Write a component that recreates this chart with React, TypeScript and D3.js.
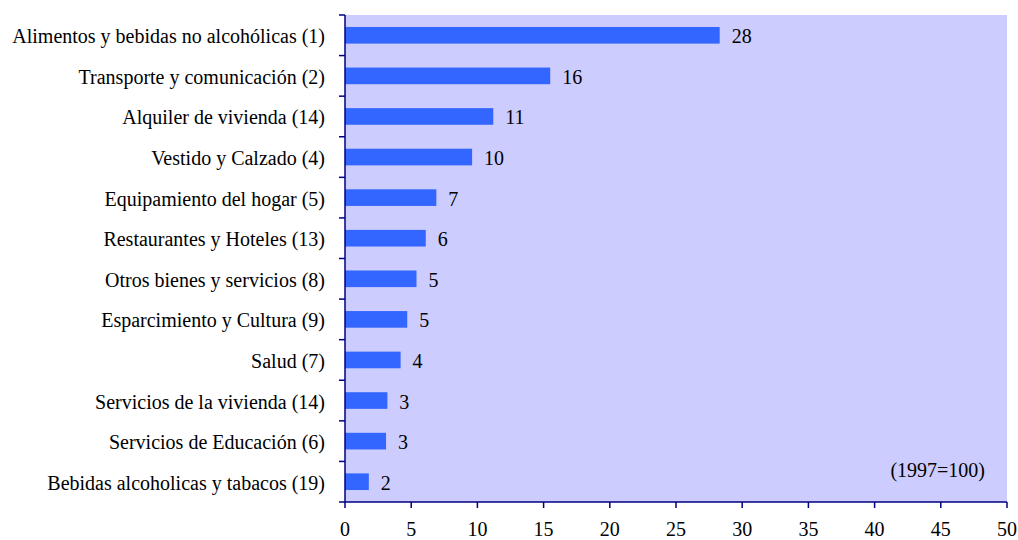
import { useEffect, useRef } from 'react';
import * as d3 from 'd3';

const categories = [
  'Alimentos y bebidas no alcohólicas (1)',
  'Transporte y comunicación (2)',
  'Alquiler de vivienda (14)',
  'Vestido y Calzado (4)',
  'Equipamiento del hogar (5)',
  'Restaurantes y Hoteles (13)',
  'Otros bienes y servicios (8)',
  'Esparcimiento y Cultura (9)',
  'Salud (7)',
  'Servicios de la vivienda (14)',
  'Servicios de Educación (6)',
  'Bebidas alcoholicas y tabacos (19)',
];
const values = [28.3, 15.5, 11.2, 9.6, 6.9, 6.1, 5.4, 4.7, 4.2, 3.2, 3.1, 1.8];
const valueLabels = ['28', '16', '11', '10', '7', '6', '5', '5', '4', '3', '3', '2'];
const xTicks = [0, 5, 10, 15, 20, 25, 30, 35, 40, 45, 50];
const note = '(1997=100)';

export default function App() {
  const svgRef = useRef<SVGSVGElement>(null);

  useEffect(() => {
    if (!svgRef.current) return;
    const svg = d3.select(svgRef.current);
    svg.selectAll('*').remove();

    const left = 345;
    const right = 1007;
    const top = 15;
    const bottom = 502;
    const font = '"Liberation Serif", "Times New Roman", serif';
    const fontSize = '20px';
    const axisColor = '#000080';

    const x = d3.scaleLinear().domain([0, 50]).range([left, right]);
    const y = d3.scaleBand<string>().domain(categories).range([top, bottom]).paddingInner(0.59).paddingOuter(0.295);
    const band = d3.scaleBand<string>().domain(categories).range([top, bottom]);

    // plot background
    svg.append('rect')
      .attr('x', left).attr('y', top)
      .attr('width', right - left).attr('height', bottom - top)
      .attr('fill', '#CCCCFF');

    // bars, value labels, category labels
    categories.forEach((c, i) => {
      svg.append('rect')
        .attr('x', x(0))
        .attr('y', y(c)!)
        .attr('width', x(values[i]) - x(0))
        .attr('height', y.bandwidth())
        .attr('fill', '#3366FF');

      svg.append('text')
        .attr('x', x(values[i]) + 12)
        .attr('y', y(c)! + y.bandwidth() / 2 + 1)
        .attr('dominant-baseline', 'central')
        .attr('font-family', font)
        .attr('font-size', fontSize)
        .attr('fill', '#000')
        .text(valueLabels[i]);

      svg.append('text')
        .attr('x', left - 20)
        .attr('y', band(c)! + band.bandwidth() / 2 + 1)
        .attr('dominant-baseline', 'central')
        .attr('text-anchor', 'end')
        .attr('font-family', font)
        .attr('font-size', fontSize)
        .attr('fill', '#000')
        .text(c);
    });

    // left axis with ticks at band boundaries
    svg.append('line')
      .attr('x1', left).attr('x2', left)
      .attr('y1', top).attr('y2', bottom)
      .attr('stroke', axisColor).attr('stroke-width', 1.5);
    for (let i = 0; i <= categories.length; i++) {
      const yy = top + i * band.step();
      svg.append('line')
        .attr('x1', left - 6).attr('x2', left)
        .attr('y1', yy).attr('y2', yy)
        .attr('stroke', axisColor).attr('stroke-width', 1.5);
    }

    // bottom axis
    svg.append('line')
      .attr('x1', left).attr('x2', right)
      .attr('y1', bottom).attr('y2', bottom)
      .attr('stroke', axisColor).attr('stroke-width', 1.5);
    xTicks.forEach(t => {
      svg.append('line')
        .attr('x1', x(t)).attr('x2', x(t))
        .attr('y1', bottom).attr('y2', bottom + 6)
        .attr('stroke', axisColor).attr('stroke-width', 1.5);
      svg.append('text')
        .attr('x', x(t))
        .attr('y', 529)
        .attr('dominant-baseline', 'central')
        .attr('text-anchor', 'middle')
        .attr('font-family', font)
        .attr('font-size', fontSize)
        .attr('fill', '#000')
        .text(t);
    });

    svg.append('text')
      .attr('x', 985)
      .attr('y', 470)
      .attr('dominant-baseline', 'central')
      .attr('text-anchor', 'end')
      .attr('font-family', font)
      .attr('font-size', fontSize)
      .attr('fill', '#000')
      .text(note);
  }, []);

  return (
    <svg
      ref={svgRef}
      width={1018}
      height={540}
      style={{ position: 'absolute', left: 0, top: 0, background: '#fff' }}
    />
  );
}
